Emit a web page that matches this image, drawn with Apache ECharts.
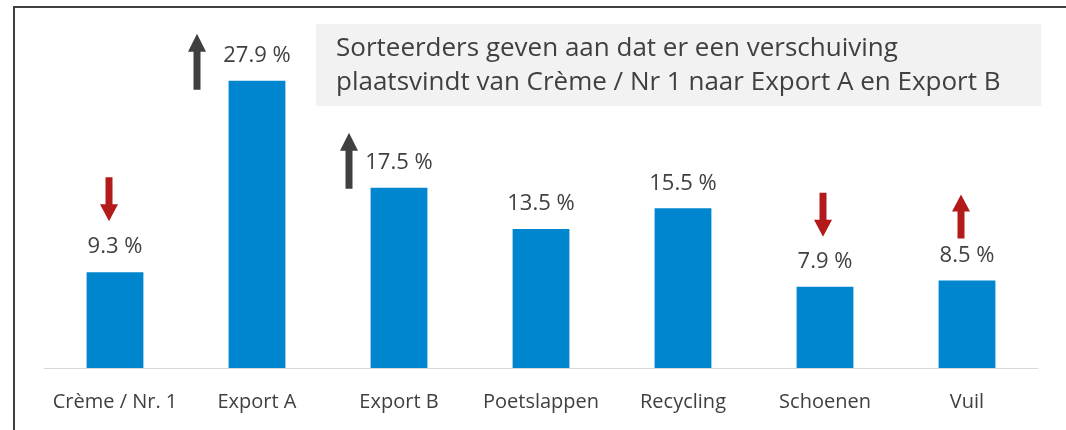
<!DOCTYPE html>
<html>
<head>
<meta charset="utf-8">
<style>
  html, body { margin: 0; padding: 0; background: #ffffff; }
  #chart { width: 1066px; height: 430px; }
</style>
<script src="https://cdn.jsdelivr.net/npm/echarts@6/dist/echarts.min.js"></script>
</head>
<body>
<div id="chart"></div>
<script>
// Sorting categories and their share (%)
const categories = ['Crème / Nr. 1', 'Export A', 'Export B', 'Poetslappen', 'Recycling', 'Schoenen', 'Vuil'];
const shares = [9.3, 27.9, 17.5, 13.5, 15.5, 7.9, 8.5];

// Trend arrows per category: 'up', 'down' or null
const trends = ['down', 'up', 'up', null, null, 'down', 'up'];
// Arrow colour group: 'shift' = dark grey (main shift), 'minor' = red
const trendKinds = ['minor', 'shift', 'shift', null, null, 'minor', 'minor'];

const headline = 'Sorteerders geven aan dat er een verschuiving\nplaatsvindt van Crème / Nr 1 naar Export A en Export B';

const FONT = '"Open Sans", "Noto Sans", sans-serif';
const TEXT = '#404040';

// Arrow glyphs (long grey, short red) as SVG paths
const arrowPaths = {
  shift: { up: 'path://M9,0 L18,18 L12.5,18 L12.5,56 L5.5,56 L5.5,18 L0,18 Z', size: [18, 56] },
  minor: { up: 'path://M9,0 L18,17 L12.5,17 L12.5,44 L5.5,44 L5.5,17 L0,17 Z', size: [18, 44] }
};
const downPath = 'path://M5.5,0 L12.5,0 L12.5,27 L18,27 L9,44 L0,27 L5.5,27 Z';
const arrowColors = { shift: '#404040', minor: '#b31b1b' };
// Arrow placement relative to the top centre of each bar, in pixels
const arrowOffsets = [[-6, -73], [-60, -19], [-50, -27], null, null, [-2, -72], [-6, -64]];

const arrowMarks = [];
trends.forEach(function (dir, i) {
  if (!dir) return;
  const kind = trendKinds[i];
  arrowMarks.push({
    coord: [i, shares[i]],
    symbol: dir === 'up' ? arrowPaths[kind].up : downPath,
    symbolSize: arrowPaths[kind].size,
    symbolOffset: arrowOffsets[i],
    itemStyle: { color: arrowColors[kind] },
    label: { show: false }
  });
});

const chart = echarts.init(document.getElementById('chart'));
chart.setOption({
  animation: false,
  textStyle: { fontFamily: FONT },
  grid: { left: 44, right: 28, top: 59, bottom: 62 },
  xAxis: {
    type: 'category',
    data: categories,
    axisTick: { show: false },
    axisLine: { lineStyle: { color: '#d9d9d9', width: 1 } },
    axisLabel: { color: TEXT, fontSize: 20, margin: 24, fontFamily: FONT, interval: 0 }
  },
  yAxis: {
    type: 'value',
    min: 0,
    max: 30,
    show: false,
    splitLine: { show: false }
  },
  series: [{
    type: 'bar',
    data: shares,
    barWidth: '40%',
    itemStyle: { color: '#0086cf' },
    label: {
      show: true,
      position: 'top',
      distance: 14,
      color: TEXT,
      fontSize: 22,
      fontFamily: FONT,
      formatter: function (p) { return p.value.toFixed(1) + ' %'; }
    },
    markPoint: {
      silent: true,
      data: arrowMarks
    }
  }],
  graphic: [
    {
      type: 'rect',
      shape: { x: 14, y: 7, width: 1200, height: 600 },
      style: { fill: 'none', stroke: '#404040', lineWidth: 2 },
      silent: true
    },
    {
      type: 'group',
      left: 316,
      top: 24,
      children: [
        {
          type: 'rect',
          shape: { x: 0, y: 0, width: 725, height: 82 },
          style: { fill: '#f2f2f2' }
        },
        {
          type: 'text',
          x: 20,
          y: 8,
          style: {
            text: headline,
            fill: TEXT,
            fontSize: 26,
            lineHeight: 34,
            fontFamily: FONT
          }
        }
      ]
    }
  ]
});
</script>
</body>
</html>
